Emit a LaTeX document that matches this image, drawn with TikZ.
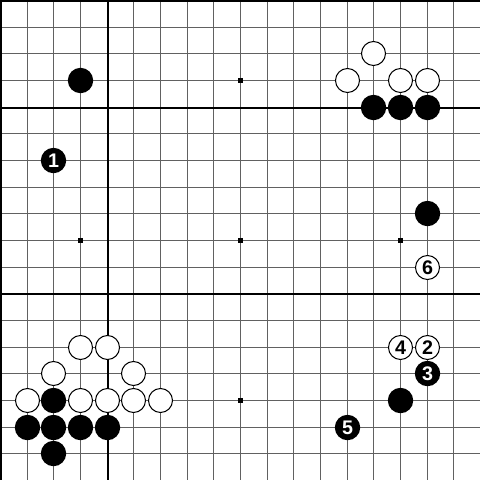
\documentclass[tikz,border=0pt]{standalone}
\usepackage{fontspec}
\setsansfont{Liberation Sans}
\begin{document}
\begin{tikzpicture}[x=0.025cm,y=-0.025cm,
  gridline/.style={draw=black!62,line width=0.025cm},
  heavyline/.style={draw=black,line width=0.05cm},
  starpt/.style={fill=black},
  bs/.style={circle,fill=black,minimum size=0.635cm,inner sep=0pt,text=white,
    font=\sffamily\bfseries\fontsize{14}{14}\selectfont},
  ws/.style={circle,draw=black,fill=white,line width=0.025cm,minimum size=0.6cm,inner sep=0pt,text=black,
    font=\sffamily\bfseries\fontsize{14}{14}\selectfont}]
\useasboundingbox (0,0) rectangle (480,480);
\fill[white] (0,0) rectangle (480,480);
\foreach \k in {1,...,17}{
  \pgfmathsetmacro\p{round(\k*80/3)+0.5}
  \draw[gridline] (\p,0) -- (\p,480);
  \draw[gridline] (0,\p) -- (480,\p);
}
\draw[heavyline] (107.5,0) -- (107.5,480);
\draw[heavyline] (0,107.5) -- (480,107.5);
\draw[heavyline] (0,293.5) -- (480,293.5);
\fill[black] (0,0) rectangle (2,480);
\fill[black] (0,0) rectangle (480,2);
\foreach \x in {3,9,15}{
  \foreach \y in {3,9,15}{
    \pgfmathsetmacro\px{round(\x*80/3)+0.5}
    \pgfmathsetmacro\py{round(\y*80/3)+0.5}
    \fill[starpt] (\px-2.5,\py-2.5) rectangle (\px+2.5,\py+2.5);
  }
}
% black stones
\foreach \i/\j/\nm/\t in {3/3/b1/{},14/4/b2/{},15/4/b3/{},16/4/b4/{},16/8/b5/{},
  15/15/b6/{},2/15/b7/{},1/16/b8/{},2/16/b9/{},3/16/b10/{},4/16/b11/{},2/17/b12/{},
  2/6/m1/1,16/14/m3/3,13/16/m5/5}{
  \pgfmathsetmacro\px{round(\i*80/3)+0.5}
  \pgfmathsetmacro\py{round(\j*80/3)+0.5}
  \node[bs] (\nm) at (\px,\py) {\t};
}
% white stones
\foreach \i/\j/\nm/\t in {14/2/w1/{},13/3/w2/{},15/3/w3/{},16/3/w4/{},3/13/w5/{},
  4/13/w6/{},2/14/w7/{},5/14/w8/{},1/15/w9/{},3/15/w10/{},4/15/w11/{},5/15/w12/{},
  6/15/w13/{},16/13/m2/2,15/13/m4/4,16/10/m6/6}{
  \pgfmathsetmacro\px{round(\i*80/3)+0.5}
  \pgfmathsetmacro\py{round(\j*80/3)+0.5}
  \node[ws] (\nm) at (\px,\py) {\t};
}
\end{tikzpicture}
\end{document}
